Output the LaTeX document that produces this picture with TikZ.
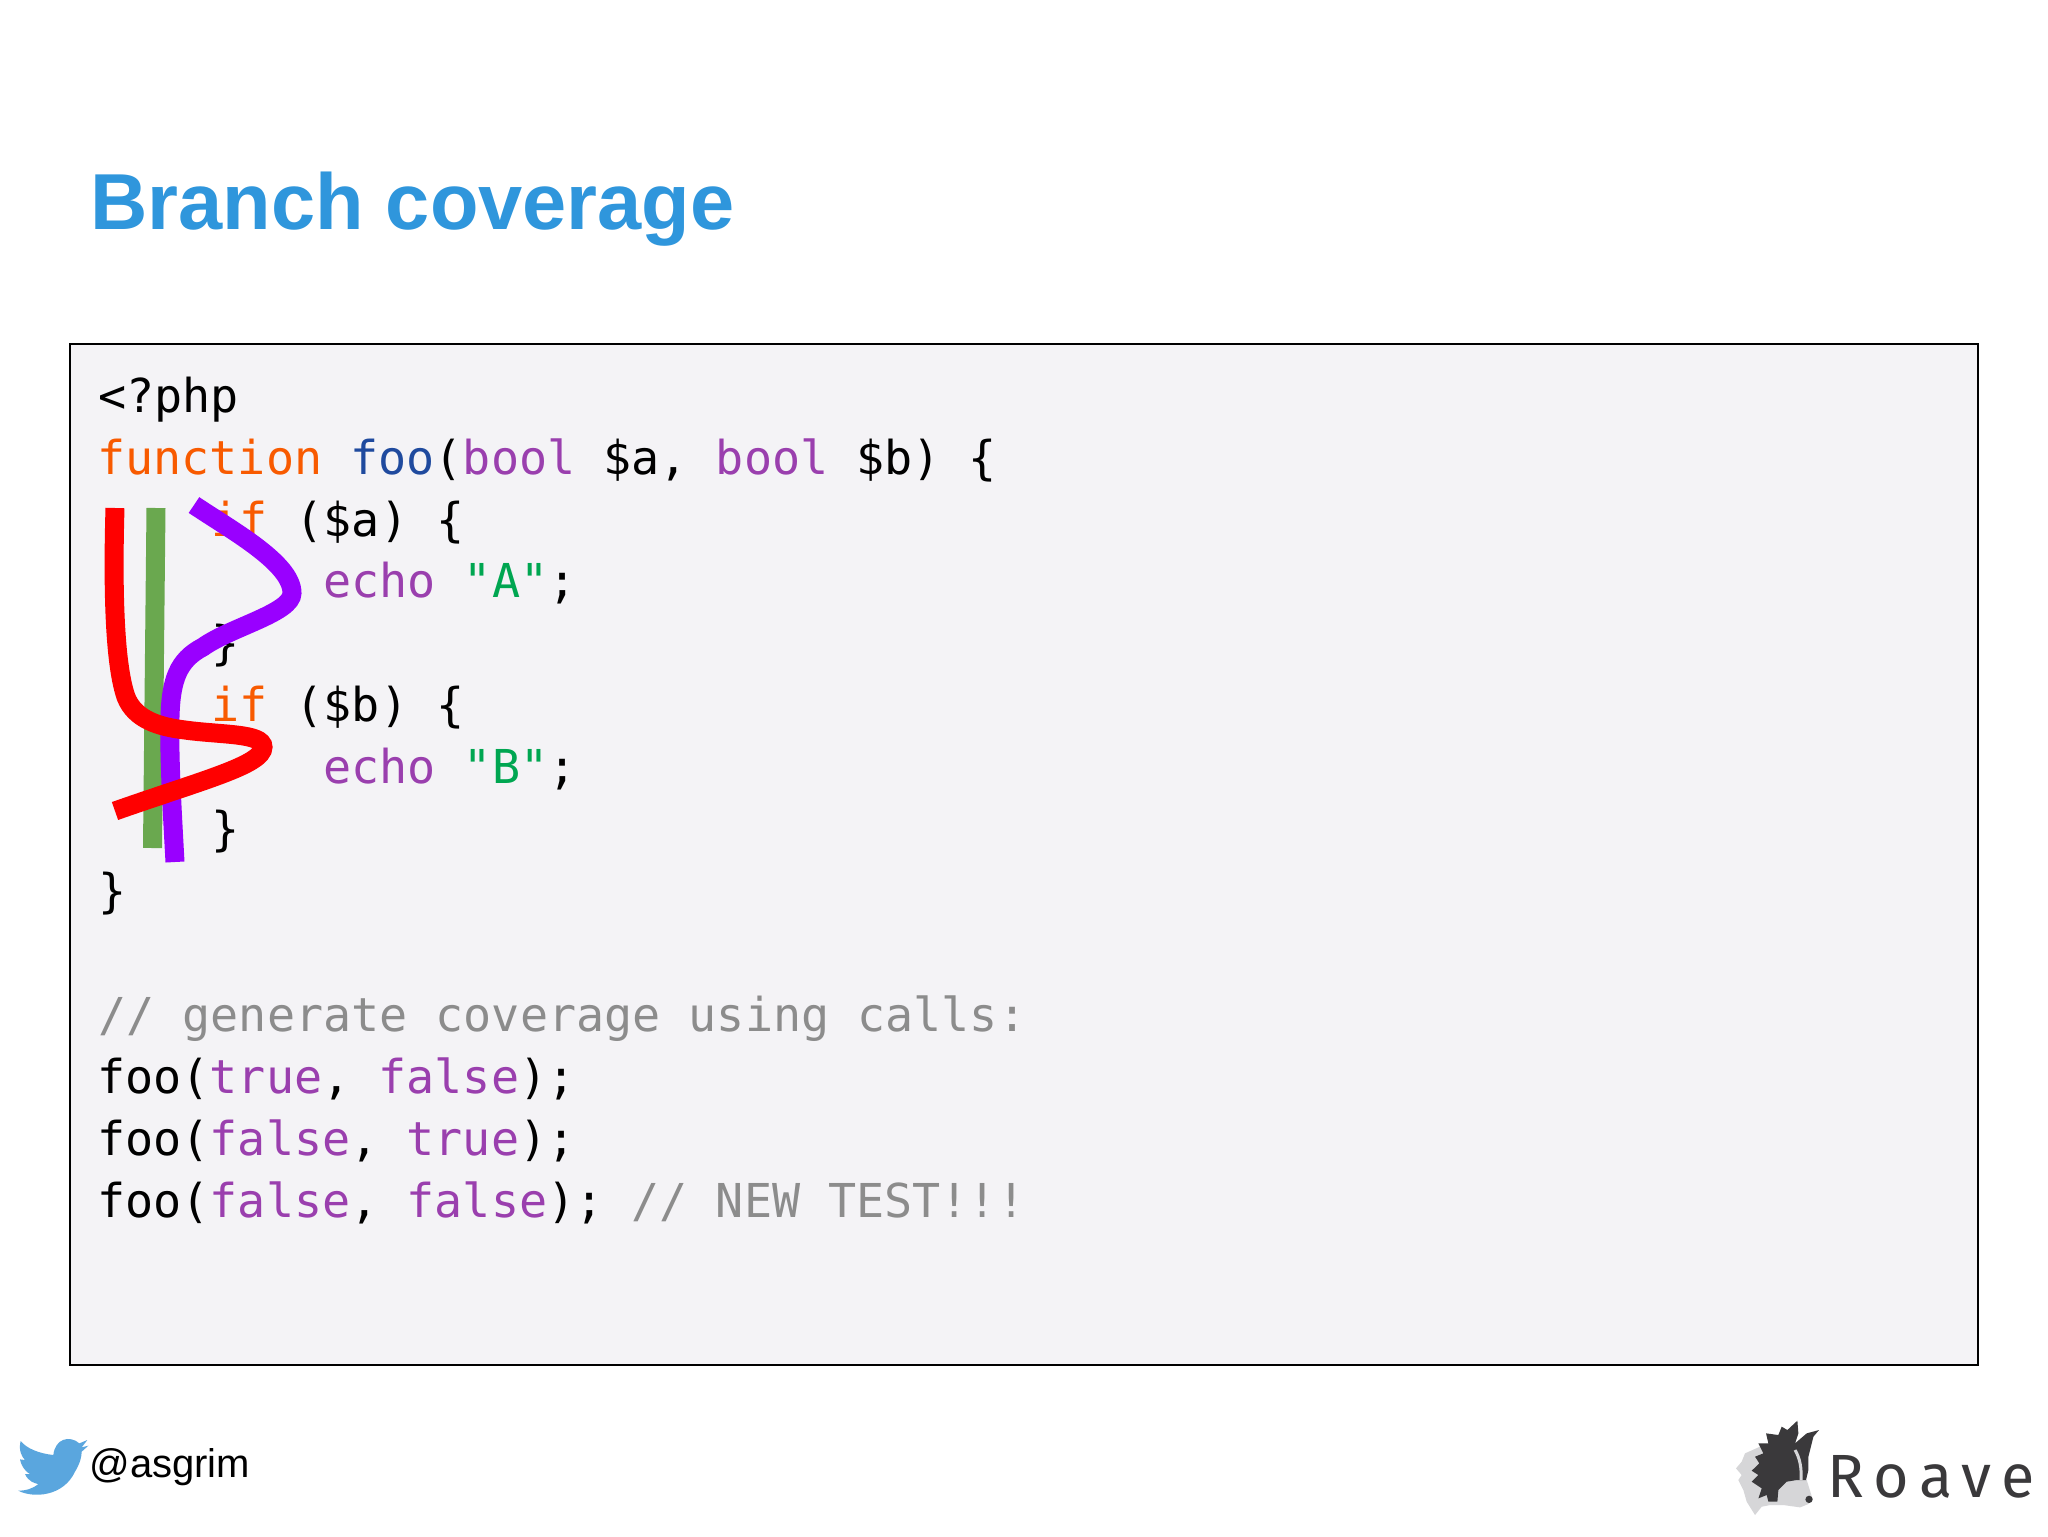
\documentclass[tikz,border=0pt]{standalone}
\usepackage{fontspec}
\usepackage{xcolor}
\setmainfont{Liberation Sans}
\newfontfamily\codefont{DejaVu Sans Mono}
\newfontfamily\logofont[LetterSpace=17]{Fira Sans}
\definecolor{titleblue}{HTML}{2F96DC}
\definecolor{panelgray}{HTML}{F4F3F6}
\definecolor{kwdorange}{HTML}{F85A00}
\definecolor{fnblue}{HTML}{1F4A9E}
\definecolor{typepurple}{HTML}{9A3FAE}
\definecolor{strgreen}{HTML}{00A651}
\definecolor{commentgray}{HTML}{8C8C8C}
\definecolor{birdblue}{HTML}{5AA6DE}
\definecolor{logodark}{HTML}{3A393B}
\definecolor{logolight}{HTML}{D6D6D8}
\definecolor{brushred}{HTML}{FF0000}
\definecolor{brushgreen}{HTML}{6AA84F}
\definecolor{brushpurple}{HTML}{9900FF}
\newcommand{\kwd}[1]{\textcolor{kwdorange}{#1}}
\newcommand{\fnc}[1]{\textcolor{fnblue}{#1}}
\newcommand{\typ}[1]{\textcolor{typepurple}{#1}}
\newcommand{\str}[1]{\textcolor{strgreen}{#1}}
\newcommand{\cmt}[1]{\textcolor{commentgray}{#1}}
\tikzset{
  codeline/.style={anchor=base west, inner sep=0pt, font=\codefont\fontsize{23.35}{28}\selectfont\frenchspacing},
  brush/.style={line width=9.5pt},
}

\begin{document}
\begin{tikzpicture}[x=0.5pt,y=-0.5pt]
  \useasboundingbox (0,0) rectangle (2048,1536);
  \fill[white] (0,0) rectangle (2048,1536);

  % title and panel
  \node[anchor=base west, inner sep=0pt, text=titleblue, font=\bfseries\fontsize{39.7}{46}\selectfont] (title) at (90,229) {Branch coverage};
  \draw[fill=panelgray, line width=0.8pt] (70,344) rectangle (1978,1365);

  % code
  \node[codeline] (php)  at (98,412)  {<?php};
  \node[codeline] (func) at (97,474)  {\kwd{function} \fnc{foo}(\typ{bool} \$a, \typ{bool} \$b) \{};
  \node[codeline] (ifa)  at (211,536) {\kwd{if} (\$a) \{};
  \node[codeline] (echa) at (323,597) {\typ{echo} \str{"A"};};
  \node[codeline] (enda) at (211,659) {\}};
  \node[codeline] (ifb)  at (211,721) {\kwd{if} (\$b) \{};
  \node[codeline] (echb) at (323,783) {\typ{echo} \str{"B"};};
  \node[codeline] (endb) at (211,845) {\}};
  \node[codeline] (endf) at (98,907)  {\}};
  \node[codeline] (note) at (98,1031) {\cmt{// generate coverage using calls:}};
  \node[codeline] (calla) at (97,1093) {foo(\typ{true}, \typ{false});};
  \node[codeline] (callb) at (97,1155) {foo(\typ{false}, \typ{true});};
  \node[codeline] (callc) at (97,1217) {foo(\typ{false}, \typ{false}); \cmt{// NEW TEST!!!}};

  % hand drawn paths
  \draw[brush, brushgreen] (156,508) -- (152.5,848);
  \draw[brush, brushpurple] (194,505) .. controls (231,530) and (292,563) .. (292,593)
    .. controls (292,613) and (231,627) .. (203,647)
    .. controls (178,660) and (171,680) .. (170,717)
    .. controls (169,757) and (172,807) .. (175,862);
  \draw[brush, brushred] (115,508) .. controls (113.6,557) and (112,657) .. (126,697)
    .. controls (135,720) and (160,727) .. (185,730)
    .. controls (221,735) and (263,733) .. (263,747)
    .. controls (263,765) and (203,780) .. (115,811);

  % twitter handle
  \begin{scope}[shift={(0,1400)},x=0.1667pt,y=-0.1667pt]
    \fill[birdblue] (55,272) .. controls (100,295) and (190,290) .. (225,215)
      .. controls (240,190) and (245,170) .. (245,155) -- (265,137) -- (245,142) -- (262,120) -- (238,130)
      .. controls (210,105) and (165,115) .. (160,165)
      .. controls (115,160) and (80,145) .. (62,123)
      .. controls (55,150) and (65,170) .. (75,180) -- (60,178)
      .. controls (65,205) and (85,220) .. (90,222) -- (75,222)
      .. controls (85,245) and (105,250) .. (115,252)
      .. controls (95,268) and (75,272) .. (55,272) -- cycle;
  \end{scope}
  \node[anchor=base west, inner sep=0pt, font=\fontsize{20}{24}\selectfont] (handle) at (89,1477) {@asgrim};

  % roave logo
  \begin{scope}[shift={(1700,1400)},x=0.1667pt,y=-0.1667pt]
    \fill[logolight] (180,140) -- (135,160) -- (125,185) -- (108,205) -- (125,225) -- (115,240) -- (130,270)
      -- (140,305) -- (165,345) -- (185,320) -- (210,315) -- (250,315) -- (300,322) -- (325,312) -- (337,295)
      -- (320,240) -- (300,230) -- cycle;
    \fill[logodark] (292,62) -- (295,100) -- (285,130) -- (320,100) -- (357,90) -- (340,110) -- (335,130)
      -- (325,170) -- (325,210) -- (318,240) -- (290,240) -- (260,245) -- (235,270) -- (232,305) -- (205,305)
      -- (200,285) -- (175,295) -- (185,265) -- (155,245) -- (175,225) -- (155,212) -- (178,190) -- (165,170)
      -- (190,160) -- (175,130) -- (205,130) -- (198,100) -- (235,105) -- (245,80) -- (262,90) -- cycle;
    \draw[logolight, line width=1.5pt] (285,150) .. controls (300,175) and (305,205) .. (303,240);
    \fill[logodark] (327,298) circle[radius=11];
  \end{scope}
  \node[anchor=base west, inner sep=0pt, text=logodark, font=\logofont\fontsize{30.5}{36}\selectfont] (roave) at (1827,1497) {Roave};
\end{tikzpicture}
\end{document}
